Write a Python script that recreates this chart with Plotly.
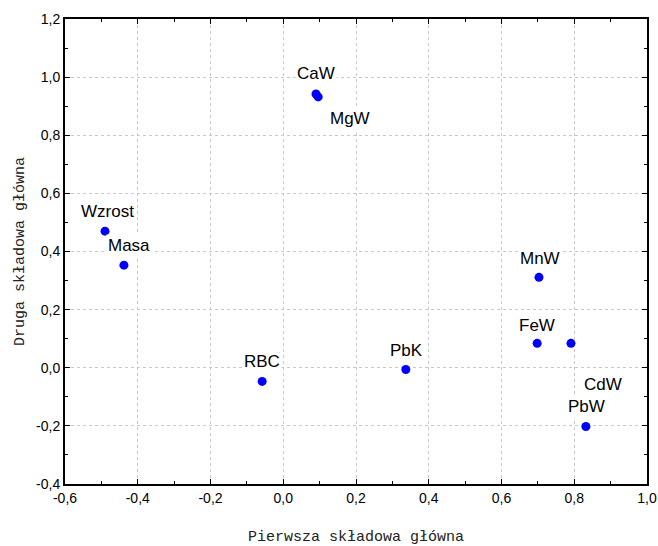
import plotly.graph_objects as go

names = ["Wzrost", "Masa", "CaW", "MgW", "RBC", "PbK", "MnW", "FeW", "CdW", "PbW"]
pc1 = [-0.490, -0.438, 0.090, 0.096, -0.058, 0.337, 0.703, 0.698, 0.791, 0.832]
pc2 = [0.470, 0.353, 0.942, 0.932, -0.047, -0.006, 0.311, 0.084, 0.084, -0.202]
# label offsets in pixels (xshift, yshift)
label_offsets = [(2, 20), (5, 20), (0, 20), (32, -22), (0, 20), (1, 19), (1, 19), (0, 18), (32, -41), (1, 20)]

x_ticks = [-0.6, -0.4, -0.2, 0.0, 0.2, 0.4, 0.6, 0.8, 1.0]
x_ticktext = ["-0,6", "-0,4", "-0,2", "0,0", "0,2", "0,4", "0,6", "0,8", "1,0"]
y_ticks = [-0.4, -0.2, 0.0, 0.2, 0.4, 0.6, 0.8, 1.0, 1.2]
y_ticktext = ["-0,4", "-0,2", "0,0", "0,2", "0,4", "0,6", "0,8", "1,0", "1,2"]

fig = go.Figure()
fig.add_trace(go.Scatter(
    x=pc1, y=pc2, mode="markers",
    marker=dict(color="#0000ff", size=9, line=dict(width=0)),
    showlegend=False, hoverinfo="skip"))

for n, x, y, (dx, dy) in zip(names, pc1, pc2, label_offsets):
    fig.add_annotation(x=x, y=y, text=n, showarrow=False, xshift=dx, yshift=dy,
                       bgcolor="white", borderpad=1,
                       font=dict(family="Liberation Sans, Arial", size=17, color="black"))

axis_common = dict(
    showline=True, linecolor="black", linewidth=2, mirror="ticks",
    ticks="inside", ticklen=5, tickwidth=1, tickcolor="black",
    showgrid=True, gridcolor="#c8c8c8", griddash="dot", gridwidth=1,
    zeroline=False, automargin=False,
    tickfont=dict(family="Liberation Sans Narrow, Arial Narrow, Liberation Sans", size=14, color="black"),
    minor=dict(ticks="inside", ticklen=3, tickcolor="black", dtick=0.1, showgrid=False),
)

fig.update_xaxes(range=[-0.6, 1.0], tickvals=x_ticks, ticktext=x_ticktext,
                 title=dict(text="Pierwsza składowa główna", standoff=28,
                            font=dict(family="Liberation Mono, Courier New", size=15, color="#222222")),
                 **axis_common)
fig.update_yaxes(range=[-0.4, 1.2], tickvals=y_ticks, ticktext=y_ticktext,
                 title=dict(text="Druga składowa główna", standoff=8,
                            font=dict(family="Liberation Mono, Courier New", size=15, color="#222222")),
                 **axis_common)

fig.update_layout(width=658, height=546, margin=dict(l=65, r=11, t=19, b=62),
                  plot_bgcolor="white", paper_bgcolor="white")

fig.write_html("out.html")
